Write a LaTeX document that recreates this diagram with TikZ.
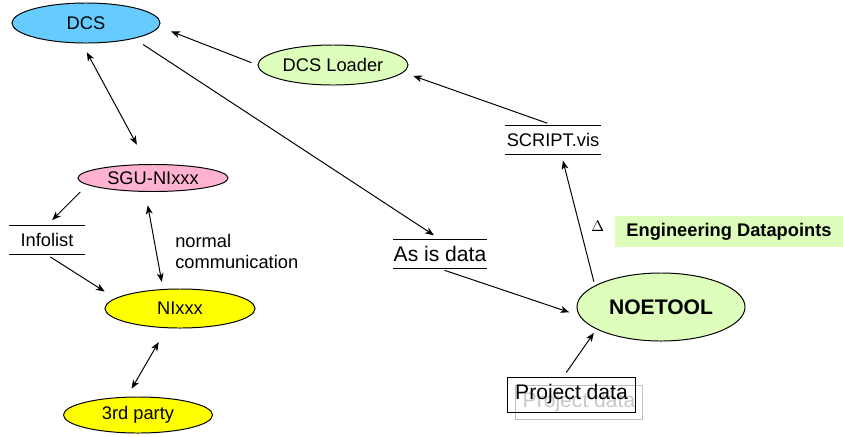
\documentclass[tikz,border=0pt]{standalone}
\usepackage{fontspec}
\setmainfont{Liberation Sans}
\usepackage{xcolor}
\usetikzlibrary{shapes.geometric, arrows.meta, positioning}

\definecolor{dcsblue}{HTML}{66CCFF}
\definecolor{toolgreen}{HTML}{DDFFBB}
\definecolor{sgupink}{HTML}{FFB3D1}
\definecolor{niyellow}{HTML}{FFFF00}

\begin{document}
\begin{tikzpicture}[
    x=0.025cm, y=-0.025cm,
    proc/.style={ellipse, draw, line width=0.7pt, inner sep=0pt, minimum width=3.75cm, font=\fontsize{13}{15}\selectfont},
    store/.style={rectangle, inner sep=0pt, minimum height=0.725cm, font=\fontsize{13}{15}\selectfont},
    arrow/.style={-{Stealth[length=2.2mm, width=1.7mm, inset=0.6mm]}, line width=0.7pt},
    both/.style={{Stealth[length=2.2mm, width=1.7mm, inset=0.6mm]}-{Stealth[length=2.2mm, width=1.7mm, inset=0.6mm]}, line width=0.7pt}
]
\useasboundingbox (0,0) rectangle (843,436);

% processes
\node[proc, fill=dcsblue, minimum width=3.7cm, minimum height=1.0cm] (dcs) at (86,23) {DCS};
\node[proc, fill=toolgreen, minimum height=1.0cm] (loader) at (333,65) {DCS Loader};
\node[proc, fill=sgupink, minimum height=0.675cm] (sgu) at (153,178) {SGU-NIxxx};
\node[proc, fill=niyellow, minimum height=0.975cm] (ni) at (180,308.5) {NIxxx};
\node[proc, fill=niyellow, minimum width=3.725cm, minimum height=0.9cm] (third) at (138,415) {3rd party};
\node[proc, fill=toolgreen, minimum width=4.2cm, minimum height=1.7cm, font=\fontsize{15}{17}\selectfont\bfseries] (noetool) at (661,307) {NOETOOL};

% data stores
\node[store, minimum width=2.4cm] (script) at (553,140) {SCRIPT.vis};
\node[store, minimum width=2.3cm, font=\fontsize{15}{17}\selectfont] (asis) at (440,254) {As is data};
\node[store, minimum width=1.9cm] (infolist) at (47,240) {Infolist};
\foreach \s in {script,asis,infolist} {
  \draw[line width=0.7pt] (\s.north west) -- (\s.north east);
  \draw[line width=0.7pt] (\s.south west) -- (\s.south east);
}

% project data (with its shadow copy)
\node[rectangle, draw=black!25, line width=0.7pt, minimum width=3.15cm, minimum height=0.85cm, text=black!22, font=\fontsize{15}{17}\selectfont] (projghost) at (579,402) {Project data};
\node[rectangle, draw, line width=0.7pt, minimum width=3.175cm, minimum height=0.875cm, font=\fontsize{15}{17}\selectfont] (proj) at (571.5,394.5) {Project data};

% labels
\node[rectangle, fill=toolgreen, minimum width=5.7cm, minimum height=0.775cm, font=\fontsize{13}{15}\selectfont\bfseries] (eng) at (729,231.5) {Engineering Datapoints};
\node[anchor=north west, inner sep=0pt, align=left, font=\fontsize{13}{15}\selectfont] (normal) at (175,234) {normal\\communication};

% connectors
\draw[arrow, shorten <=1.6mm, shorten >=3.2mm] (loader.west) -- (dcs.-3);
\draw[arrow, shorten <=1.5mm, shorten >=2.6mm] (script.north) -- (loader.-6);
\draw[both, shorten <=2.5mm, shorten >=5.5mm] (dcs.-101) -- (sgu.112);
\draw[arrow, shorten <=2.7mm, shorten >=1.8mm] (dcs.-18) -- (asis.north);
\draw[arrow, shorten <=1.2mm, shorten >=2.6mm] (asis.south) -- (noetool.186);
\draw[arrow, shorten <=1mm, shorten >=1.5mm] (noetool.162) -- node[pos=0.45, right=1.6mm, font=\fontsize{10.5}{12}\selectfont] (delta) {$\Delta$} ([xshift=2.1mm]script.south);
\draw[arrow, shorten <=1.2mm, shorten >=1.1mm] ([xshift=-2mm]proj.north) -- (noetool.199);
\draw[arrow, shorten <=2.5mm, shorten >=1.8mm] (sgu.186) -- (infolist.north);
\draw[both, shorten <=3.4mm, shorten >=1.8mm] (sgu.-119) -- (ni.131);
\draw[arrow, shorten <=1mm, shorten >=3.1mm] (infolist.south) -- (ni.171);
\draw[both, shorten <=4mm, shorten >=2.3mm] (ni.-124) -- (third.121);
\end{tikzpicture}
\end{document}
